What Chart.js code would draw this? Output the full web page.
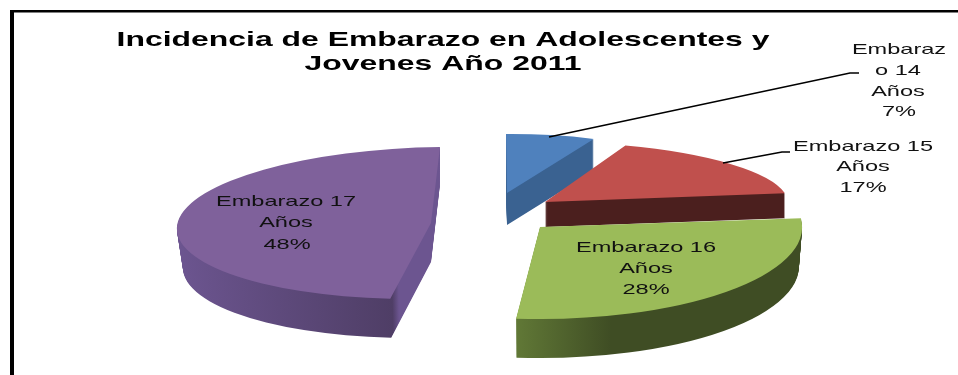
<!DOCTYPE html>
<html>
<head>
<meta charset="utf-8">
<style>
html,body{margin:0;padding:0;background:#fff;overflow:hidden}
#wrap{position:absolute;left:0;top:0;width:958px;height:375px}
</style>
<script src="https://cdn.jsdelivr.net/npm/chart.js@4/dist/chart.umd.min.js"></script>
</head>
<body>
<div id="wrap"><canvas id="c" width="958" height="375"></canvas></div>
<script>
const categories = ['Embarazo 14 Años', 'Embarazo 15 Años', 'Embarazo 16 Años', 'Embarazo 17 Años'];
const shares = [7, 17, 28, 48];
const topColors = ['#4F81BD', '#C0504D', '#9BBB59', '#7F619B'];
const titleLines = ['Incidencia de Embarazo en Adolescentes y', 'Jovenes Año 2011'];

// how each slice is seen: apex x, y, matrix a, b, c, d, wall height and taper
const views = [
  { x: 507, y: 193, a: 206, b: -1.5, c: 1, d: 59, h: 32, t: 0 },
  { x: 545, y: 202, a: 242, b: -5, c: 25, d: 60, h: 25, t: 0 },
  { x: 540, y: 227, a: 262, b: -3, c: 9, d: 92, h: 39, t: 0.012 },
  { x: 431, y: 223, a: 254, b: -3, c: -9, d: 76, h: 39, t: 0.024 }
];
// wall colours as [position across the pie 0..1, colour]
const walls = [
  [[0, '#3A6291'], [1, '#3A6291']],
  [[0, '#4B1F1E'], [1, '#4B1F1E']],
  [[0.43, '#627A37'], [0.62, '#3F4D24'], [1, '#3F4D24']],
  [[0, '#6C5590'], [0.44, '#4F3E66'], [0.45, '#6C5590'], [1, '#6C5590']]
];

function applyView(ctx, arc, v, dy) {
  const r = arc.outerRadius;
  const k = 1 - v.t * dy / v.h;
  ctx.translate(v.x, v.y + dy);
  ctx.transform(k * v.a / r, v.b / r, k * v.c / r, v.d / r, 0, 0);
  ctx.translate(-arc.x, -arc.y);
}

// stack darker copies of each arc for the 3D wall, then the top face
const tilt = {
  id: 'tilt',
  beforeDatasetsDraw(chart) {
    const ctx = chart.ctx, arcs = chart.getDatasetMeta(0).data;
    arcs.forEach((arc, i) => {
      const v = views[i], o = arc.options, top = o.backgroundColor;
      const g = ctx.createLinearGradient(arc.x - arc.outerRadius, 0, arc.x + arc.outerRadius, 0);
      walls[i].forEach(s => g.addColorStop(s[0], s[1]));
      o.backgroundColor = g;
      for (let d = v.h; d > 0; d--) {
        ctx.save();
        applyView(ctx, arc, v, d);
        arc.draw(ctx);
        ctx.restore();
      }
      o.backgroundColor = top;
      ctx.save();
      applyView(ctx, arc, v, 0);
      arc.draw(ctx);
      ctx.restore();
    });
    return false;
  }
};

function wideText(ctx, text, x, y, stretch) {
  ctx.save();
  ctx.translate(x, y);
  ctx.scale(stretch, 1);
  ctx.fillText(text, 0, 0);
  ctx.restore();
}

// frame, title, slice labels and leader lines
const labels = {
  id: 'labels',
  beforeDraw(chart) {
    const ctx = chart.ctx;
    ctx.fillStyle = '#000';
    ctx.fillRect(10, 10, 948, 2.5);
    ctx.fillRect(10, 10, 4, 365);
  },
  afterDraw(chart) {
    const ctx = chart.ctx;
    ctx.save();
    ctx.strokeStyle = '#000';
    ctx.lineWidth = 1.6;
    ctx.beginPath();
    ctx.moveTo(549, 137); ctx.lineTo(850, 73); ctx.lineTo(859, 73);
    ctx.moveTo(723, 163); ctx.lineTo(782, 152); ctx.lineTo(790, 152);
    ctx.stroke();
    ctx.textAlign = 'center';
    ctx.textBaseline = 'middle';
    ctx.fillStyle = '#111';
    ctx.font = '15px "Liberation Sans"';
    [['Embaraz', 899, 50], ['o 14', 898, 71], ['Años', 898, 92], ['7%', 899, 112],
     ['Embarazo 15', 863, 147], ['Años', 863, 167], ['17%', 863, 188],
     ['Embarazo 16', 646, 248], ['Años', 646, 269], ['28%', 646, 290],
     ['Embarazo 17', 286, 202], ['Años', 286, 223], ['48%', 287, 245]]
      .forEach(t => wideText(ctx, t[0], t[1], t[2], 1.57));
    ctx.fillStyle = '#000';
    ctx.font = 'bold 21px "Liberation Sans"';
    wideText(ctx, titleLines[0], 443, 40, 1.52);
    wideText(ctx, titleLines[1], 443, 64, 1.52);
    ctx.restore();
  }
};

new Chart(document.getElementById('c').getContext('2d'), {
  type: 'pie',
  data: {
    labels: categories,
    datasets: [{
      data: shares,
      backgroundColor: topColors,
      borderWidth: 0
    }]
  },
  options: {
    responsive: false,
    animation: false,
    plugins: { legend: { display: false }, tooltip: { enabled: false } }
  },
  plugins: [tilt, labels]
});
</script>
</body>
</html>
